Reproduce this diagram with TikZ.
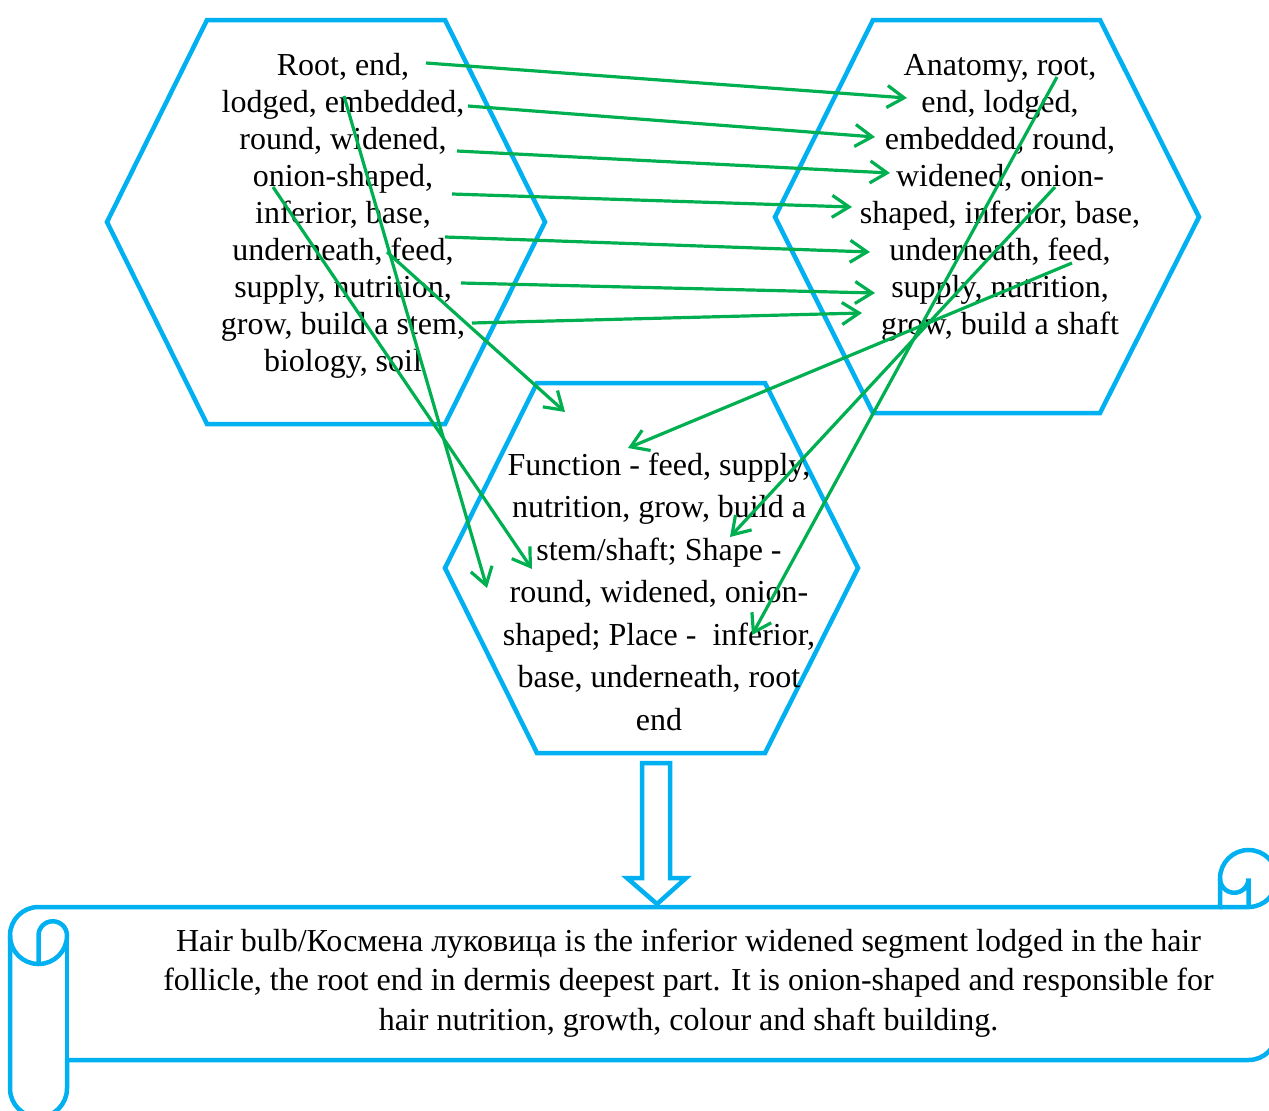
\documentclass[tikz,border=0pt]{standalone}
\usepackage{fontspec}
\setmainfont{Liberation Serif}
\usetikzlibrary{arrows.meta}
\definecolor{hexblue}{HTML}{00B0F0}
\definecolor{arrgreen}{HTML}{00B050}
\begin{document}
\begin{tikzpicture}[x=1pt,y=-1pt,
  hexa/.style={draw=hexblue,line width=4.5pt,line join=miter},
  txt/.style={align=center,inner sep=0pt},
  link/.style={draw=arrgreen,line width=3.2pt,-{Straight Barb[length=17pt,width=22pt]}}]
\useasboundingbox (0,0) rectangle (1269,1111);
\clip (0,0) rectangle (1269,1111);
% hexagons
\draw[hexa] (207,20) -- (445,20) -- (545,222) -- (445,424) -- (207,424) -- (107,222) -- cycle;
\draw[hexa] (873,20) -- (1100,20) -- (1199,217) -- (1100,413) -- (873,413) -- (775,217) -- cycle;
\draw[hexa] (537,383) -- (765,383) -- (858,568) -- (765,753) -- (537,753) -- (445,568) -- cycle;
% texts
\node[txt,font=\fontsize{32}{37}\selectfont] (h1) at (343,216) {Root, end,\\lodged, embedded,\\round, widened,\\onion-shaped,\\inferior, base,\\underneath, feed,\\supply, nutrition,\\grow, build a stem,\\biology, soil};
\node[txt,font=\fontsize{32}{37}\selectfont] (h2) at (1000,197.5) {Anatomy, root,\\end, lodged,\\embedded, round,\\widened, onion-\\shaped, inferior, base,\\underneath, feed,\\supply, nutrition,\\grow, build a shaft};
\node[txt,font=\fontsize{32}{42.5}\selectfont] (h3) at (659,591.5) {Function - feed, supply,\\nutrition, grow, build a\\stem/shaft; Shape -\\round, widened, onion-\\shaped; Place -\ \ inferior,\\base, underneath, root\\end};
% block arrow
\draw[hexa] (642,763) -- (670,763) -- (670,878) -- (686,878) -- (657,904) -- (627,878) -- (642,878) -- cycle;
% scroll
\draw[hexa] (10,935.5) arc[start angle=180,end angle=270,radius=28.5] -- (1220,907) -- (1220,878.5)
  arc[start angle=180,end angle=360,radius=28.5] -- (1277,1031.5)
  arc[start angle=0,end angle=90,radius=28.5] -- (67,1060) -- (67,1088.5)
  arc[start angle=0,end angle=180,radius=28.5] -- cycle;
\draw[hexa] (1220,907) -- (1248.5,907) arc[start angle=90,end angle=0,radius=28.5];
\draw[hexa] (1248.5,907) -- (1248.5,878.5) arc[start angle=0,end angle=180,radius=14.25];
\draw[hexa] (38.5,964) -- (38.5,935.5) arc[start angle=180,end angle=360,radius=14.25] arc[start angle=0,end angle=180,radius=28.5];
\draw[hexa] (67,935.5) -- (67,1060);
\node[txt,font=\fontsize{32}{39.5}\selectfont] (s) at (688.5,983) {Hair bulb/Космена луковица is the inferior widened segment lodged in the hair\\follicle, the root end in dermis deepest part. It is onion-shaped and responsible for\\hair nutrition, growth, colour and shaft building.};
% arrow end points
\coordinate (a1s) at (426,63);   \coordinate (a1e) at (907,98);
\coordinate (a2s) at (468,106);  \coordinate (a2e) at (875,137);
\coordinate (a3s) at (457,151);  \coordinate (a3e) at (890,173);
\coordinate (a4s) at (452,194);  \coordinate (a4e) at (852,207);
\coordinate (a5s) at (445,237);  \coordinate (a5e) at (870,252);
\coordinate (a6s) at (461,283);  \coordinate (a6e) at (875,293);
\coordinate (a7s) at (472,323);  \coordinate (a7e) at (862,313);
\coordinate (a8s) at (344,96);   \coordinate (a8e) at (487,588);
\coordinate (a9s) at (273,187);  \coordinate (a9e) at (532,569);
\coordinate (a10s) at (387,252); \coordinate (a10e) at (565,412);
\coordinate (a11s) at (1072,263); \coordinate (a11e) at (628,448);
\coordinate (a12s) at (1055,187); \coordinate (a12e) at (730,537);
\coordinate (a13s) at (1057,77);  \coordinate (a13e) at (752,635);
\foreach \i in {1,...,13} {\draw[link] (a\i s) -- (a\i e);}
\end{tikzpicture}
\end{document}
